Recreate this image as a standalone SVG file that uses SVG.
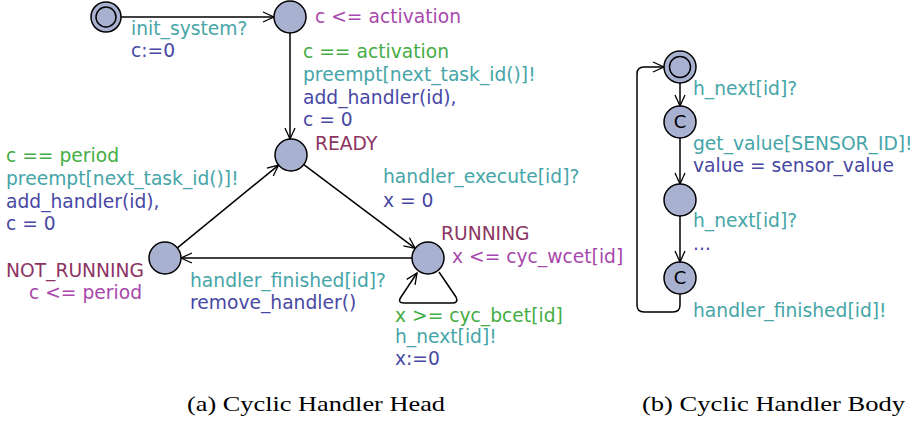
<svg xmlns="http://www.w3.org/2000/svg" width="923" height="422" viewBox="0 0 923 422">
<style>
text{font-family:"DejaVu Sans",sans-serif;font-size:18.7px}
.loc{fill:#a9b1d1;stroke:#000;stroke-width:1.5}
.e{fill:none;stroke:#000;stroke-width:1.5}
.nm{fill:#8c3462}
.inv{fill:#a848ac}
.gd{fill:#45ad45}
.sy{fill:#46a5a8}
.up{fill:#4848a4}
.cap{font-family:"Liberation Serif",serif;font-size:21px;fill:#000}
.cm{font-size:18px;fill:#000;text-anchor:middle}
</style>
<defs>
<marker id="ar" markerUnits="userSpaceOnUse" markerWidth="14" markerHeight="12" refX="12" refY="6" orient="auto">
<path d="M1,1 L12,6 L1,11" fill="none" stroke="#000" stroke-width="1.3"/>
</marker>
</defs>
<g id="connectors">
<line class="e" x1="121" y1="17" x2="274" y2="17" marker-end="url(#ar)"/>
<line class="e" x1="290" y1="33" x2="290" y2="139" marker-end="url(#ar)"/>
<line class="e" x1="303.8" y1="164.6" x2="415.2" y2="248.4" marker-end="url(#ar)"/>
<line class="e" x1="412" y1="258" x2="181" y2="258" marker-end="url(#ar)"/>
<line class="e" x1="177.4" y1="247.9" x2="278.6" y2="165.1" marker-end="url(#ar)"/>
<path class="e" d="M439,272 L456,297 Q459,303 452,303 L404,303 Q397,303 401,297 L417,273" marker-end="url(#ar)"/>
<line class="e" x1="680" y1="82" x2="680" y2="106" marker-end="url(#ar)"/>
<line class="e" x1="680" y1="138" x2="680" y2="184" marker-end="url(#ar)"/>
<line class="e" x1="680" y1="216" x2="680" y2="262" marker-end="url(#ar)"/>
<path class="e" d="M680,294 L680,305 Q680,312 673,312 L644,312 Q637,312 637,305 L637,74 Q637,67 644,67 L664,67" marker-end="url(#ar)"/>
</g>
<g id="init">
<circle class="loc" cx="106" cy="17" r="15"/>
<circle class="e" cx="106" cy="17" r="10"/>
</g>
<g id="wait">
<circle class="loc" cx="290" cy="17" r="16"/>
<text class="inv" x="315" y="23">c &lt;= activation</text>
</g>
<g id="ready">
<circle class="loc" cx="291" cy="155" r="16"/>
<text class="nm" x="315" y="150">READY</text>
</g>
<g id="not_running">
<circle class="loc" cx="165" cy="258" r="16"/>
<text class="nm" x="6" y="277">NOT_RUNNING</text>
<text class="inv" x="29" y="299">c &lt;= period</text>
</g>
<g id="running">
<circle class="loc" cx="428" cy="258" r="16"/>
<text class="nm" x="441" y="240">RUNNING</text>
<text class="inv" x="452" y="263">x &lt;= cyc_wcet[id]</text>
</g>
<g id="labels-head">
<text class="sy" x="131" y="35">init_system?</text>
<text class="up" x="131" y="57">c:=0</text>
<text class="gd" x="303" y="58">c == activation</text>
<text class="sy" x="303" y="81">preempt[next_task_id()]!</text>
<text class="up" x="303" y="104">add_handler(id),</text>
<text class="up" x="303" y="126">c = 0</text>
<text class="gd" x="6" y="162">c == period</text>
<text class="sy" x="6" y="185">preempt[next_task_id()]!</text>
<text class="up" x="6" y="208">add_handler(id),</text>
<text class="up" x="6" y="230">c = 0</text>
<text class="sy" x="383" y="183">handler_execute[id]?</text>
<text class="up" x="383" y="207">x = 0</text>
<text class="sy" x="190" y="287">handler_finished[id]?</text>
<text class="up" x="190" y="309">remove_handler()</text>
<text class="gd" x="395" y="322">x &gt;= cyc_bcet[id]</text>
<text class="sy" x="395" y="343">h_next[id]!</text>
<text class="up" x="395" y="365">x:=0</text>
</g>
<g id="b_init">
<circle class="loc" cx="680" cy="67" r="16"/>
<circle class="e" cx="680" cy="67" r="10.5"/>
</g>
<g id="b_c1">
<circle class="loc" cx="680" cy="122" r="16"/>
<text class="cm" x="680" y="128">C</text>
</g>
<g id="b_mid">
<circle class="loc" cx="680" cy="200" r="16"/>
</g>
<g id="b_c2">
<circle class="loc" cx="680" cy="278" r="16"/>
<text class="cm" x="680" y="284">C</text>
</g>
<g id="labels-body">
<text class="sy" x="693" y="95">h_next[id]?</text>
<text class="sy" x="693" y="150">get_value[SENSOR_ID]!</text>
<text class="up" x="693" y="172">value = sensor_value</text>
<text class="sy" x="693" y="227">h_next[id]?</text>
<text class="up" x="693" y="250">...</text>
<text class="sy" x="693" y="317">handler_finished[id]!</text>
</g>
<text class="cap" x="187" y="411" textLength="258" lengthAdjust="spacingAndGlyphs">(a) Cyclic Handler Head</text>
<text class="cap" x="642" y="411" textLength="263" lengthAdjust="spacingAndGlyphs">(b) Cyclic Handler Body</text>
</svg>
